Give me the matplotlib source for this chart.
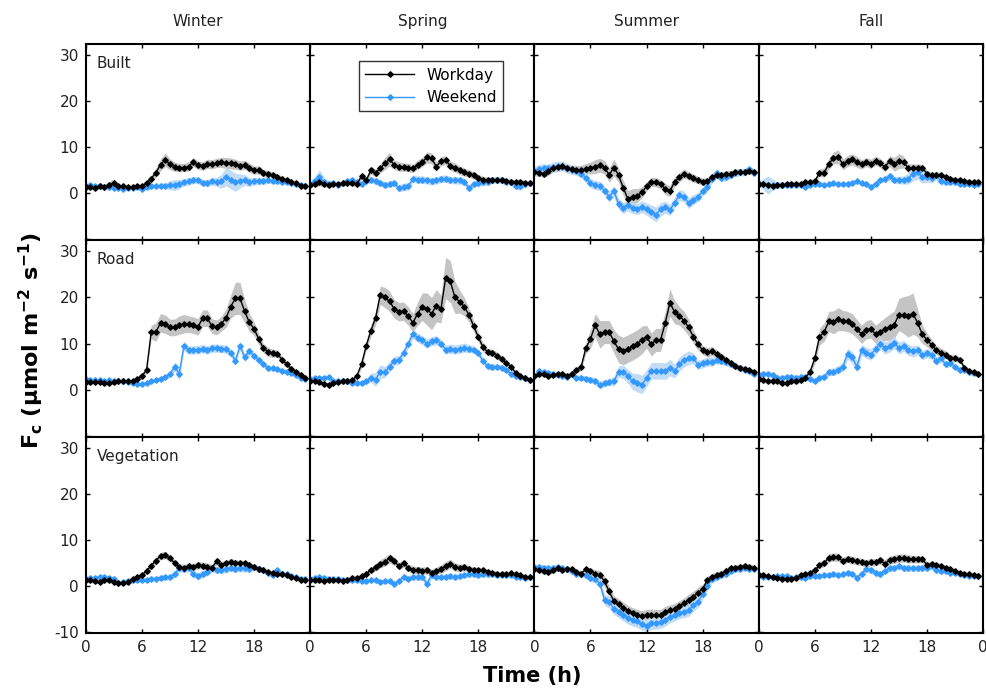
import numpy as np
import matplotlib.pyplot as plt

hours = np.arange(0, 24, 0.5)
seasons = ['Winter', 'Spring', 'Summer', 'Fall']
surfaces = ['Built', 'Road', 'Vegetation']

# ---- Built : workday / weekend means and spread ----
built_winter_wd = [1.4,1.3,1.2,1.5,1.4,1.8,2.3,1.6,1.5,1.4,1.4,1.5,
                   1.6,2.2,3.2,4.5,6.2,7.3,6.3,5.8,5.6,5.6,5.8,6.8,
                   6.1,5.9,6.4,6.3,6.6,6.7,6.6,6.5,6.3,6.0,6.2,5.6,
                   5.0,5.1,4.4,4.2,3.9,3.6,3.2,2.8,2.5,2.2,1.7,1.5]
built_winter_we = [1.6,1.8,1.5,1.7,1.4,1.3,1.1,1.2,1.0,1.2,1.2,1.3,
                   1.0,1.4,1.5,1.6,1.7,1.6,1.8,1.8,2.0,2.4,2.6,2.9,
                   2.8,2.3,2.2,2.6,2.5,2.6,3.6,3.0,2.4,2.7,2.9,2.4,
                   2.6,2.7,2.7,2.8,2.7,2.6,2.5,2.4,2.2,2.0,1.8,1.7]
built_spring_wd = [1.8,2.0,2.4,2.0,1.8,2.0,2.0,2.2,2.3,2.2,2.0,3.7,
                   2.8,5.0,4.4,5.4,6.5,7.4,6.2,5.8,5.7,5.6,5.4,6.2,
                   6.8,7.8,7.6,5.8,7.0,7.2,6.0,5.6,5.0,4.6,4.3,3.9,
                   3.4,3.0,2.9,2.9,3.0,2.9,2.7,2.5,2.5,2.5,2.3,2.2]
built_spring_we = [2.1,2.6,3.6,2.5,2.0,2.2,1.8,2.2,2.6,2.9,2.4,2.1,
                   2.6,3.0,2.6,2.2,1.8,2.0,2.2,1.1,1.4,1.5,3.2,3.0,
                   3.0,2.8,2.6,2.8,3.1,3.2,2.9,2.8,2.8,2.5,1.1,2.0,
                   2.2,2.4,2.5,2.8,3.0,2.8,2.5,2.5,1.6,1.5,2.0,2.2]
built_summer_wd = [4.6,4.5,4.3,4.8,5.5,5.7,6.0,5.4,5.2,5.0,5.0,5.3,
                   5.5,5.8,6.1,5.6,4.0,5.6,4.0,1.2,-1.2,-0.8,-0.5,0.2,
                   1.5,2.5,2.4,2.0,0.9,0.5,2.5,3.5,4.3,3.8,3.3,2.9,
                   2.5,2.6,3.6,4.0,4.0,4.1,4.3,4.6,4.6,4.7,4.9,4.7]
built_summer_we = [4.8,5.3,5.4,5.4,5.8,6.0,5.8,5.6,5.0,4.8,4.3,3.4,
                   2.2,1.8,1.6,0.6,-0.7,0.5,-2.3,-3.2,-2.6,-3.2,-3.4,-2.9,
                   -3.4,-4.0,-4.6,-3.5,-3.0,-3.6,-2.0,-0.4,-0.7,-2.1,-1.4,-0.8,
                   0.4,1.4,3.2,4.5,3.3,3.6,4.0,4.4,4.6,4.6,5.2,4.4]
built_fall_wd = [2.0,2.1,1.8,1.7,1.8,1.8,2.0,2.1,2.0,2.0,2.4,2.5,
                 2.6,4.5,4.5,6.4,7.7,7.9,6.3,7.0,7.4,6.8,6.3,6.8,
                 6.4,7.1,6.6,5.7,7.0,6.3,7.0,6.8,5.4,5.6,5.6,5.5,
                 4.3,3.9,3.9,3.9,3.5,3.2,3.0,2.9,2.7,2.5,2.5,2.4]
built_fall_we = [2.1,2.0,1.8,1.9,1.8,1.9,1.8,1.8,1.8,1.9,1.4,1.9,
                 2.0,2.1,1.8,2.0,2.2,2.0,2.0,2.1,2.3,2.6,2.2,2.0,
                 1.4,2.1,2.9,3.1,3.7,2.9,2.9,2.9,3.2,4.2,4.6,3.5,
                 3.6,3.3,3.9,2.6,2.5,2.5,2.4,2.1,2.0,2.0,1.9,2.0]

built_winter_wd_sd = [0.4,0.4,0.4,0.4,0.5,0.8,0.8,0.5,0.4,0.4,0.4,0.4,
                      0.5,0.6,0.8,1.0,1.3,1.5,1.2,1.0,0.9,0.9,1.0,1.0,
                      0.9,0.9,1.0,1.0,1.0,1.1,1.2,1.2,1.1,1.0,1.0,1.0,
                      0.9,0.9,0.8,0.8,0.7,0.6,0.6,0.5,0.5,0.4,0.4,0.4]
built_winter_we_sd = [0.5,0.6,0.5,0.5,0.5,0.5,0.4,0.4,0.4,0.4,0.4,0.4,
                      0.4,0.5,0.5,0.5,0.6,0.6,1.0,1.2,1.0,0.8,0.8,0.8,
                      0.7,0.7,0.8,0.8,1.0,1.5,2.0,2.0,2.0,1.5,1.2,1.0,
                      0.8,0.8,0.7,0.7,0.6,0.6,0.5,0.5,0.5,0.5,0.5,0.5]
built_spring_wd_sd = [0.5,0.6,0.8,0.6,0.5,0.5,0.5,0.5,0.5,0.5,0.5,0.7,
                      0.7,0.8,0.9,1.0,1.3,1.5,1.0,1.0,0.9,0.9,0.9,1.0,
                      1.0,1.2,1.2,1.0,1.0,1.0,1.0,1.0,0.9,0.9,0.8,0.8,
                      0.7,0.7,0.6,0.6,0.6,0.6,0.5,0.5,0.5,0.5,0.5,0.5]
built_spring_we_sd = [0.6,1.0,1.5,1.0,0.7,0.6,0.6,0.6,0.6,0.6,0.6,0.6,
                      0.6,0.7,0.7,0.7,0.7,0.7,0.7,0.8,0.8,0.8,0.8,0.8,
                      0.8,0.8,0.8,0.8,0.8,0.8,0.8,0.8,0.8,0.8,0.8,0.7,
                      0.7,0.7,0.7,0.7,0.7,0.7,0.7,0.8,0.8,0.8,0.7,0.7]
built_summer_wd_sd = [0.8,0.8,0.8,0.9,0.9,1.0,1.0,1.0,1.0,1.0,1.1,1.2,
                      1.3,1.5,1.5,1.5,1.6,1.8,1.6,1.6,1.8,1.8,1.5,1.2,
                      1.0,1.0,1.0,1.0,1.2,1.2,1.0,1.0,1.0,0.9,0.9,0.8,
                      0.8,0.8,0.7,0.7,0.7,0.7,0.7,0.7,0.7,0.7,0.7,0.7]
built_summer_we_sd = [1.0,1.0,1.0,1.0,1.0,1.0,0.9,0.9,0.9,0.9,0.9,1.0,
                      1.0,1.0,1.0,1.0,1.2,1.2,1.2,1.2,1.2,1.2,1.2,1.3,
                      1.3,1.5,1.6,1.5,1.3,1.2,1.2,1.2,1.2,1.2,1.1,1.0,
                      1.0,1.0,1.0,0.9,0.9,0.8,0.8,0.8,0.8,0.8,0.8,0.8]
built_fall_wd_sd = [0.5,0.5,0.5,0.5,0.5,0.5,0.5,0.5,0.5,0.5,0.5,0.5,
                    0.6,0.8,1.0,1.2,1.3,1.5,1.2,1.2,1.2,1.2,1.0,1.0,
                    1.0,1.0,1.0,1.0,1.2,1.5,1.6,1.3,1.0,0.8,0.8,0.8,
                    0.7,0.7,0.7,0.6,0.6,0.6,0.5,0.5,0.5,0.5,0.5,0.5]
built_fall_we_sd = [0.6,1.2,2.0,1.2,0.8,0.7,0.6,0.6,0.6,0.5,0.5,0.5,
                    0.5,0.5,0.5,0.5,0.5,0.5,0.5,0.5,0.5,0.5,0.5,0.6,
                    0.6,0.6,0.6,0.7,0.8,0.8,0.8,0.9,1.2,1.5,1.5,1.3,
                    1.2,1.0,1.0,0.8,0.7,0.6,0.6,0.5,0.5,0.5,0.5,0.5]

# ---- Road ----
road_winter_wd = [1.6,1.6,1.7,1.6,1.5,1.4,1.6,1.8,1.8,1.8,1.8,2.3,
                  3.0,4.2,12.5,12.5,14.5,14.2,13.5,13.5,14.0,14.3,14.2,14.0,
                  13.6,15.5,15.5,13.8,13.5,14.3,15.5,18.0,19.8,19.8,17.0,14.6,
                  13.2,11.0,9.0,8.2,7.9,7.8,6.5,5.5,4.5,3.8,3.2,2.6]
road_winter_we = [2.3,2.1,2.0,2.0,1.9,2.0,1.8,1.9,1.9,1.7,1.4,1.3,
                  1.2,1.4,1.8,2.1,2.4,2.8,3.3,5.0,3.5,9.5,8.6,8.6,
                  8.7,8.9,8.6,9.0,9.0,8.9,8.8,8.0,6.3,9.5,7.0,8.4,
                  7.4,6.4,5.6,4.6,4.6,4.4,4.1,3.9,3.6,3.2,2.6,2.3]
road_spring_wd = [1.8,1.9,1.7,1.3,1.1,1.4,1.7,1.8,1.8,2.0,3.0,5.5,
                  9.5,12.8,15.5,20.5,20.0,19.2,17.5,16.9,17.0,16.0,14.5,16.5,
                  18.0,17.5,16.5,18.2,17.5,24.2,23.5,20.0,19.1,18.0,16.2,13.8,
                  11.4,9.2,8.2,8.0,7.4,6.6,5.7,5.0,3.6,2.9,2.5,2.1]
road_spring_we = [2.4,2.5,2.5,2.6,2.7,1.9,1.8,1.8,1.8,1.5,1.4,1.5,
                  1.8,2.6,2.2,3.9,3.8,5.0,6.3,6.4,8.0,10.0,12.1,11.3,
                  10.7,10.0,10.5,10.7,10.0,8.7,8.9,8.7,8.9,9.1,8.9,8.7,
                  7.9,6.2,5.1,4.9,5.0,4.8,4.3,3.3,2.9,2.8,2.5,2.0]
road_summer_wd = [3.0,3.4,3.4,3.0,3.1,3.3,3.5,3.0,3.5,4.2,5.0,9.0,
                  11.0,14.0,12.0,12.5,12.5,10.5,8.8,8.4,8.9,9.4,10.0,10.8,
                  11.5,9.8,10.8,10.8,14.5,18.9,16.8,16.0,15.0,13.5,11.5,9.8,
                  8.6,8.1,8.4,7.8,7.1,6.4,5.8,5.1,4.6,4.5,4.2,3.9]
road_summer_we = [3.0,4.0,3.8,3.6,3.4,3.2,3.0,2.8,3.3,2.6,2.6,2.4,
                  2.2,1.8,1.1,1.4,1.7,1.8,3.9,3.9,2.9,1.8,1.5,1.1,
                  2.5,4.1,4.1,4.1,4.0,4.8,4.0,5.5,6.4,6.9,6.8,5.4,
                  5.7,6.1,6.1,6.4,6.2,6.0,5.5,5.1,4.7,4.3,4.0,3.3]
road_fall_wd = [2.4,2.0,1.9,1.9,1.9,1.5,1.5,1.8,1.8,2.0,2.6,3.9,
                6.8,11.5,12.5,14.8,14.6,15.3,15.0,14.8,14.3,13.2,12.0,13.0,
                13.2,12.0,12.6,13.1,13.6,14.1,16.3,16.2,15.9,16.5,14.5,12.0,
                10.8,9.7,8.6,8.0,7.6,6.8,6.8,6.5,4.8,4.1,3.8,3.5]
road_fall_we = [3.2,3.5,3.4,3.1,2.6,2.5,2.8,2.7,2.6,2.8,2.8,2.3,
                1.8,2.6,2.8,3.8,3.9,4.3,5.0,7.8,7.0,5.0,8.6,8.0,
                7.6,8.8,10.0,9.0,9.5,10.2,9.0,9.5,8.6,8.3,8.6,7.5,
                7.9,7.6,6.2,6.8,5.5,5.7,5.0,4.3,4.3,3.9,3.6,3.4]

road_winter_wd_sd = [0.4,0.4,0.4,0.4,0.4,0.4,0.4,0.4,0.4,0.4,0.4,0.5,
                     0.6,0.8,1.5,2.0,2.0,2.0,1.8,1.8,2.0,2.0,1.8,1.8,
                     1.8,1.8,1.8,1.6,1.6,1.6,2.0,2.5,3.5,3.5,2.5,2.0,
                     1.5,1.2,1.0,1.0,0.9,0.8,0.7,0.6,0.5,0.5,0.5,0.4]
road_winter_we_sd = [0.4,0.4,0.4,0.4,0.4,0.4,0.4,0.4,0.4,0.4,0.4,0.4,
                     0.4,0.4,0.4,0.4,0.5,0.5,0.6,1.0,1.5,1.0,0.9,0.9,
                     0.9,0.9,0.9,0.9,0.9,0.9,0.9,0.9,0.9,0.9,0.9,0.8,
                     0.8,0.7,0.6,0.6,0.5,0.5,0.5,0.5,0.4,0.4,0.4,0.4]
road_spring_wd_sd = [0.4,0.4,0.4,0.4,0.4,0.4,0.4,0.4,0.4,0.4,0.5,0.8,
                     1.0,1.2,1.5,2.0,2.2,2.2,2.0,2.0,2.0,2.0,2.0,2.5,
                     3.0,3.5,3.5,3.5,3.0,4.5,4.5,3.5,2.5,2.0,1.5,1.2,
                     1.0,1.0,0.8,0.8,0.8,0.7,0.6,0.5,0.5,0.5,0.4,0.4]
road_spring_we_sd = [0.5,0.5,0.5,0.5,0.5,0.5,0.5,0.5,0.5,0.5,0.5,0.5,
                     0.6,1.0,1.5,1.5,1.2,1.2,1.0,1.0,1.0,1.0,1.0,1.0,
                     1.0,1.0,1.0,1.0,1.0,1.0,1.0,1.0,1.0,1.0,0.9,0.8,
                     0.8,0.7,0.7,0.7,0.6,0.6,0.6,0.5,0.5,0.5,0.5,0.5]
road_summer_wd_sd = [0.5,0.5,0.5,0.5,0.5,0.5,0.5,0.5,0.5,0.6,0.8,1.2,
                     2.0,2.5,3.0,2.5,2.5,2.5,3.0,3.0,3.0,3.0,3.0,3.0,
                     2.5,2.5,2.5,2.5,2.5,3.0,2.5,2.0,2.0,1.8,1.5,1.2,
                     1.0,1.0,1.0,0.9,0.8,0.8,0.7,0.6,0.6,0.5,0.5,0.5]
road_summer_we_sd = [0.6,0.6,0.6,0.6,0.6,0.6,0.6,0.6,0.6,0.6,0.6,0.6,
                     0.7,0.8,0.8,0.8,0.8,1.0,1.2,1.5,1.5,1.8,2.0,2.0,
                     1.8,1.8,1.8,1.8,1.8,1.8,1.5,1.5,1.5,1.5,1.2,1.0,
                     1.0,1.0,1.0,0.8,0.8,0.8,0.7,0.7,0.6,0.6,0.6,0.6]
road_fall_wd_sd = [0.5,0.5,0.5,0.5,0.5,0.5,0.5,0.5,0.5,0.5,0.6,0.8,
                   1.2,1.8,2.0,2.2,2.5,2.5,2.2,2.2,2.2,2.0,2.0,2.0,
                   2.0,2.0,2.2,2.5,2.8,3.0,3.5,4.0,4.5,4.5,3.0,2.0,
                   1.5,1.2,1.0,1.0,0.9,0.8,0.7,0.6,0.5,0.5,0.5,0.5]
road_fall_we_sd = [0.6,0.6,0.6,0.6,0.6,0.6,0.6,0.6,0.6,0.6,0.6,0.6,
                   0.6,0.6,0.7,0.8,0.8,0.9,1.0,1.2,1.3,1.2,1.2,1.2,
                   1.2,1.2,1.3,1.3,1.3,1.3,1.3,1.2,1.2,1.2,1.1,1.0,
                   1.0,1.0,0.9,0.9,0.8,0.7,0.7,0.6,0.6,0.6,0.6,0.6]

# ---- Vegetation ----
veg_winter_wd = [1.2,1.2,1.0,0.9,1.2,1.2,0.9,0.6,0.7,0.9,1.5,1.9,
                 2.3,3.3,4.4,5.5,6.5,6.7,6.0,5.0,4.1,4.0,4.3,4.1,
                 4.5,4.4,4.2,3.9,5.4,4.6,4.9,5.3,5.0,4.9,4.9,4.6,
                 4.1,3.7,3.4,3.0,2.8,2.6,2.5,2.3,1.9,1.7,1.4,1.2]
veg_winter_we = [1.5,1.7,1.8,1.9,1.9,1.8,1.6,0.6,0.9,1.0,1.2,1.3,
                 1.2,1.4,1.6,1.6,1.8,1.9,1.9,2.6,3.8,3.7,3.9,2.6,
                 2.1,2.6,3.0,3.8,3.5,3.5,3.6,4.0,3.7,3.9,3.8,3.7,
                 4.1,3.7,3.5,2.8,2.3,3.4,2.6,2.5,2.1,1.9,1.6,1.6]
veg_spring_wd = [1.2,1.2,1.2,1.1,1.3,1.2,1.2,1.1,1.3,1.7,1.8,2.1,
                 2.7,3.4,4.1,4.8,5.3,6.0,5.4,4.3,4.9,4.0,3.5,3.4,
                 3.3,3.4,2.8,3.3,3.7,4.3,4.8,4.1,3.9,4.1,3.7,3.5,
                 3.4,3.4,3.1,2.9,2.7,2.6,2.6,2.8,2.5,2.3,1.9,1.9]
veg_spring_we = [1.6,1.8,1.9,1.8,1.6,1.6,1.6,1.4,1.2,1.2,1.2,1.1,
                 1.1,1.2,1.2,0.9,1.0,1.1,0.4,1.1,2.0,1.6,1.9,1.9,
                 1.9,0.5,2.3,1.9,1.9,2.0,2.1,1.9,2.1,2.3,2.5,2.5,
                 2.3,2.5,2.5,2.5,2.3,2.3,2.3,2.3,1.9,1.9,1.8,1.9]
veg_summer_wd = [3.7,3.5,3.2,3.0,3.4,3.8,3.5,3.6,3.6,3.0,2.7,3.6,
                 3.2,2.7,2.4,1.0,-1.2,-3.3,-4.0,-4.7,-5.4,-5.9,-6.3,-6.6,
                 -6.3,-6.2,-6.3,-6.3,-5.6,-5.3,-5.0,-4.4,-3.8,-3.0,-2.3,-1.5,
                 -0.6,1.2,1.9,2.3,2.6,3.3,3.8,4.0,4.2,4.3,4.1,4.0]
veg_summer_we = [4.1,4.1,4.0,3.8,4.0,4.1,3.8,3.6,3.2,2.6,2.6,2.3,
                 1.7,1.5,0.5,-3.0,-3.5,-4.9,-5.6,-6.3,-7.0,-7.4,-7.7,-8.3,
                 -8.6,-8.1,-8.1,-7.9,-7.4,-6.7,-6.3,-5.8,-5.6,-5.3,-4.2,-3.4,
                 -1.8,0.0,1.5,2.0,2.4,2.6,3.2,3.6,3.6,4.0,3.7,3.7]
veg_fall_wd = [2.4,2.3,2.1,1.9,1.8,1.6,1.5,1.6,1.8,2.3,2.5,2.9,
               3.4,4.5,5.0,6.1,6.3,6.2,5.4,5.9,5.6,5.4,5.2,4.9,
               5.2,5.1,5.6,4.8,5.6,5.8,6.0,6.1,5.9,5.8,5.8,5.8,
               4.6,4.7,4.6,4.3,4.0,3.6,3.2,2.9,2.7,2.5,2.4,2.2]
veg_fall_we = [2.4,2.0,1.9,2.0,2.2,2.2,2.1,1.8,1.9,1.9,1.8,2.1,
               2.2,2.2,2.3,2.4,2.6,2.3,2.5,2.9,2.7,1.8,2.7,3.6,
               3.4,2.9,2.5,3.3,3.8,3.9,4.3,3.8,3.9,3.8,3.8,3.9,
               3.9,4.3,3.4,3.2,3.2,2.9,2.9,2.5,2.4,2.2,2.1,2.1]

veg_winter_wd_sd = [0.4,0.4,0.4,0.4,0.4,0.4,0.4,0.4,0.4,0.4,0.4,0.5,
                    0.6,0.7,0.8,0.8,0.8,0.8,0.7,0.7,0.7,0.7,0.7,0.8,
                    0.8,0.8,0.8,0.8,0.8,0.7,0.7,0.7,0.7,0.7,0.6,0.6,
                    0.6,0.6,0.5,0.5,0.5,0.5,0.5,0.4,0.4,0.4,0.4,0.4]
veg_winter_we_sd = [0.5,0.5,0.5,0.5,0.5,0.5,0.5,0.5,0.5,0.5,0.5,0.5,
                    0.5,0.5,0.5,0.5,0.6,0.6,0.6,0.7,0.8,0.8,0.8,0.8,
                    0.8,0.8,0.8,0.8,0.8,0.8,0.8,0.8,0.8,0.8,0.8,0.7,
                    0.7,0.7,0.6,0.6,0.6,0.5,0.5,0.5,0.5,0.5,0.5,0.5]
veg_spring_wd_sd = [0.4,0.4,0.4,0.4,0.4,0.4,0.4,0.4,0.4,0.4,0.4,0.5,
                    0.6,0.7,0.8,0.9,1.0,1.0,0.9,0.8,0.8,0.8,0.8,0.8,
                    0.8,0.8,0.8,0.8,0.9,1.0,1.0,0.9,0.8,0.8,0.7,0.6,
                    0.6,0.6,0.5,0.5,0.5,0.5,0.5,0.4,0.4,0.4,0.4,0.4]
veg_spring_we_sd = [0.5,0.5,0.5,0.5,0.5,0.5,0.5,0.5,0.5,0.5,0.5,0.5,
                    0.5,0.5,0.5,0.5,0.5,0.5,0.6,0.6,0.6,0.6,0.6,0.7,
                    0.7,0.8,0.7,0.6,0.6,0.6,0.6,0.6,0.6,0.6,0.6,0.6,
                    0.6,0.6,0.6,0.6,0.5,0.5,0.5,0.5,0.5,0.5,0.5,0.5]
veg_summer_wd_sd = [0.6,0.6,0.6,0.6,0.6,0.6,0.6,0.6,0.6,0.6,0.6,0.6,
                    0.7,0.8,1.0,1.2,1.2,1.2,1.2,1.2,1.2,1.2,1.2,1.2,
                    1.2,1.2,1.2,1.2,1.2,1.2,1.2,1.2,1.2,1.2,1.2,1.2,
                    1.0,0.9,0.8,0.8,0.7,0.7,0.6,0.6,0.6,0.6,0.6,0.6]
veg_summer_we_sd = [0.6,0.6,0.6,0.6,0.6,0.6,0.6,0.6,0.6,0.6,0.6,0.7,
                    0.8,0.9,1.0,1.2,1.3,1.3,1.3,1.3,1.3,1.3,1.3,1.3,
                    1.3,1.3,1.3,1.3,1.3,1.3,1.3,1.3,1.3,1.3,1.3,1.3,
                    1.2,1.0,0.9,0.8,0.7,0.7,0.6,0.6,0.6,0.6,0.6,0.6]
veg_fall_wd_sd = [0.4,0.4,0.4,0.4,0.4,0.4,0.4,0.4,0.4,0.4,0.4,0.5,
                  0.6,0.7,0.8,0.9,0.9,0.9,0.8,0.8,0.8,0.8,0.8,0.8,
                  0.8,0.8,0.8,0.9,0.9,0.9,0.9,0.9,0.9,0.8,0.8,0.7,
                  0.6,0.6,0.5,0.5,0.5,0.5,0.5,0.4,0.4,0.4,0.4,0.4]
veg_fall_we_sd = [0.5,0.5,0.5,0.5,0.5,0.5,0.5,0.5,0.5,0.5,0.5,0.5,
                  0.5,0.5,0.5,0.5,0.6,0.6,0.6,0.6,0.6,0.6,0.6,0.7,
                  0.7,0.7,0.7,0.7,0.7,0.7,0.7,0.7,0.7,0.7,0.7,0.7,
                  0.7,0.7,0.6,0.6,0.6,0.5,0.5,0.5,0.5,0.5,0.5,0.5]

panels = [
    [(built_winter_wd, built_winter_wd_sd, built_winter_we, built_winter_we_sd),
     (built_spring_wd, built_spring_wd_sd, built_spring_we, built_spring_we_sd),
     (built_summer_wd, built_summer_wd_sd, built_summer_we, built_summer_we_sd),
     (built_fall_wd, built_fall_wd_sd, built_fall_we, built_fall_we_sd)],
    [(road_winter_wd, road_winter_wd_sd, road_winter_we, road_winter_we_sd),
     (road_spring_wd, road_spring_wd_sd, road_spring_we, road_spring_we_sd),
     (road_summer_wd, road_summer_wd_sd, road_summer_we, road_summer_we_sd),
     (road_fall_wd, road_fall_wd_sd, road_fall_we, road_fall_we_sd)],
    [(veg_winter_wd, veg_winter_wd_sd, veg_winter_we, veg_winter_we_sd),
     (veg_spring_wd, veg_spring_wd_sd, veg_spring_we, veg_spring_we_sd),
     (veg_summer_wd, veg_summer_wd_sd, veg_summer_we, veg_summer_we_sd),
     (veg_fall_wd, veg_fall_wd_sd, veg_fall_we, veg_fall_we_sd)],
]

wd_col = 'black'
wd_band = '#c4c4c4'
we_col = '#3399ff'
we_band = '#c3dcf6'

# no sharex/sharey: each panel needs its own tick labels
fig, axes = plt.subplots(3, 4, figsize=(9.86, 6.88), dpi=100)
fig.subplots_adjust(left=0.087, right=0.997, top=0.936, bottom=0.080, wspace=0, hspace=0)

for r in range(3):
    for c in range(4):
        ax = axes[r, c]
        wd, wd_sd, we, we_sd = [np.array(a) for a in panels[r][c]]
        ax.fill_between(hours, wd - wd_sd, wd + wd_sd, color=wd_band, lw=0, zorder=1)
        ax.fill_between(hours, we - we_sd, we + we_sd, color=we_band, lw=0, zorder=1)
        ax.plot(hours, wd, color=wd_col, lw=1, marker='D', ms=2.8, zorder=3, label='Workday')
        ax.plot(hours, we, color=we_col, lw=1, marker='D', ms=2.8, zorder=2, label='Weekend')
        ax.set_xlim(0, 24)
        ax.set_ylim(-10.2, 32.4)
        ax.set_xticks([0, 6, 12, 18, 24])
        ax.set_yticks([-10, 0, 10, 20, 30])
        ax.tick_params(direction='in', top=True, right=True, length=3, width=1,
                       labelsize=11, labelcolor='#222222', pad=5)
        for s in ax.spines.values():
            s.set_linewidth(1.5)
        if r == 2:
            last = '0' if c == 3 else ''
            ax.set_xticklabels(['0', '6', '12', '18', last])
        else:
            ax.set_xticklabels([])
        if c == 0:
            if r == 2:
                ax.set_yticklabels(['-10', '0', '10', '20', '30'])
            else:
                ax.set_yticklabels(['', '0', '10', '20', '30'])
            ax.text(0.05, 0.9, surfaces[r], transform=ax.transAxes, fontsize=11,
                    color='#222222', va='center')
        else:
            ax.set_yticklabels([])
        if r == 0:
            ax.set_title(seasons[c], fontsize=11, pad=13, color='#222222')

leg = axes[0, 1].legend(loc='upper center', bbox_to_anchor=(0.54, 0.95), fontsize=11,
                        frameon=True, fancybox=False, edgecolor='black',
                        handlelength=3.2, numpoints=1, borderpad=0.4, labelspacing=0.5)
leg.get_frame().set_linewidth(1.0)

fig.text(0.032, 0.505, r'F$_\mathregular{c}$ (μmol m$^\mathregular{-2}$ s$^\mathregular{-1}$)',
         rotation=90, fontsize=16, fontweight='bold', va='center', ha='center')
fig.text(0.54, 0.018, 'Time (h)', fontsize=15, fontweight='bold', ha='center', va='center')

fig.savefig('out.png', dpi=100)
